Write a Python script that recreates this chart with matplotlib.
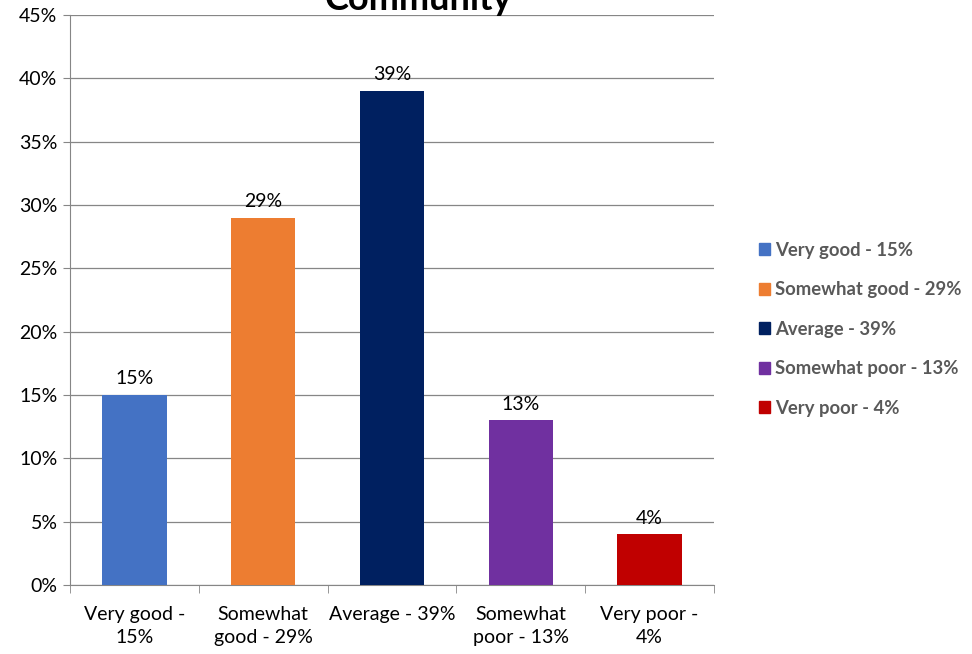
import numpy as np
import matplotlib
matplotlib.use("Agg")
import matplotlib.pyplot as plt
from matplotlib.patches import Patch

plt.rcParams['font.family'] = ['Lato', 'DejaVu Sans']

categories = ["Very good -\n15%", "Somewhat\ngood - 29%", "Average - 39%", "Somewhat\npoor - 13%", "Very poor -\n4%"]
legend_labels = ["Very good - 15%", "Somewhat good - 29%", "Average - 39%", "Somewhat poor - 13%", "Very poor - 4%"]
values = [15, 29, 39, 13, 4]
colors = ["#4472C4", "#ED7D31", "#002060", "#7030A0", "#C00000"]

fig = plt.figure(figsize=(9.72, 6.54), dpi=100)
ax = fig.add_axes([70/972, 1-585/654, 644/972, 570/654])

x = np.arange(len(values))
bars = ax.bar(x, values, width=0.5, color=colors, zorder=3)
for xi, v in zip(x, values):
    ax.text(xi, v + 0.6, f"{v}%", ha='center', va='bottom', fontsize=14, color='black')

ax.set_xlim(-0.5, len(values) - 0.5)
ax.set_ylim(0, 45)
ax.set_yticks(range(0, 46, 5))
ax.set_yticklabels([f"{t}%" for t in range(0, 46, 5)], fontsize=14)
ax.yaxis.grid(True, color='#868686', linewidth=0.9, zorder=0)
ax.set_xticks(x)
ax.set_xticklabels(categories, fontsize=14, linespacing=1.45)
ax.set_xticks(np.arange(-0.5, len(values), 1), minor=True)
ax.tick_params(axis='x', which='major', length=0, pad=15)
ax.tick_params(axis='x', which='minor', length=6, color='#868686')
ax.tick_params(axis='y', length=5, color='#868686', pad=4)
for s in ['top', 'right']:
    ax.spines[s].set_visible(False)
for s in ['left', 'bottom']:
    ax.spines[s].set_color('#868686')

# title sits mostly above the canvas, as in the reference
fig.text(418/972, 1-10/654, "Community", ha='center', va='baseline', fontsize=26, fontweight='bold')

handles = [Patch(color=c) for c in colors]
leg = fig.legend(handles, legend_labels, loc='upper left', bbox_to_anchor=(742/972, 1-225/654),
                 frameon=False, fontsize=13.3, handlelength=0.6, handleheight=0.6,
                 handletextpad=0.3, labelspacing=1.22)
for t in leg.get_texts():
    t.set_color('#595959')
    t.set_fontweight('bold')

fig.savefig("out.png", dpi=100)
